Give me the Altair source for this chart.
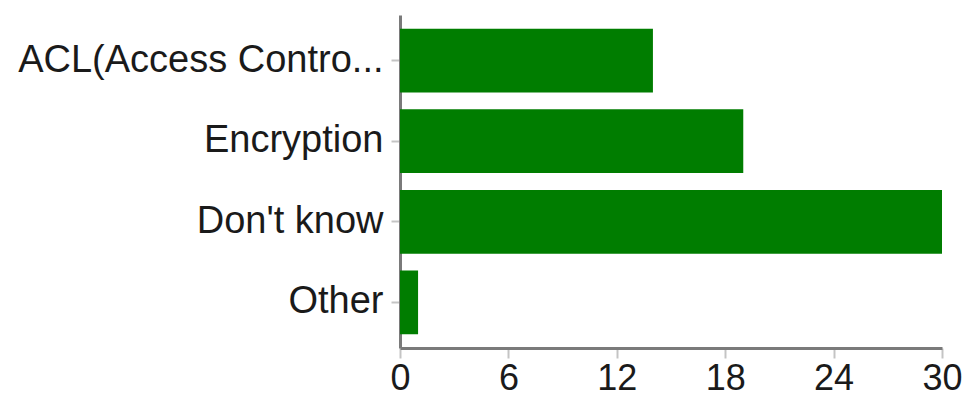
import altair as alt
import pandas as pd

# Survey answers and how many respondents chose each
answers = ["ACL(Access Contro...", "Encryption", "Don't know", "Other"]
counts = [14, 19, 30, 1]
x_ticks = [0, 6, 12, 18, 24, 30]

df = pd.DataFrame({"answer": answers, "count": counts})

FONT = "Liberation Sans"

chart = (
    alt.Chart(df)
    .mark_bar(color="#007d00")
    .encode(
        x=alt.X(
            "count:Q",
            scale=alt.Scale(domain=[0, 30], nice=False),
            axis=alt.Axis(
                values=x_ticks,
                title=None,
                grid=False,
                domainColor="#7a7a7a",
                domainWidth=3,
                tickColor="#c4c4c4",
                tickWidth=2,
                tickSize=10,
                labelFont=FONT,
                labelFontSize=36,
                labelColor="#1a1a1a",
                labelPadding=3,
                labelFlush=False,
            ),
        ),
        y=alt.Y(
            "answer:N",
            sort=answers,
            scale=alt.Scale(paddingInner=0.21, paddingOuter=0.17),
            axis=alt.Axis(
                title=None,
                domainColor="#7a7a7a",
                domainWidth=3,
                tickColor="#c4c4c4",
                tickWidth=2,
                tickSize=9,
                labelFont=FONT,
                labelFontSize=38,
                labelColor="#1a1a1a",
                labelPadding=8,
                labelLimit=600,
            ),
        ),
    )
    .properties(
        width=542,
        height=333,
        autosize="none",
        background="white",
        padding={"left": 400, "top": 15, "right": 22, "bottom": 47},
    )
    .configure_view(strokeWidth=0)
)

chart.save("out.html", embed_options={"renderer": "svg", "actions": False})
